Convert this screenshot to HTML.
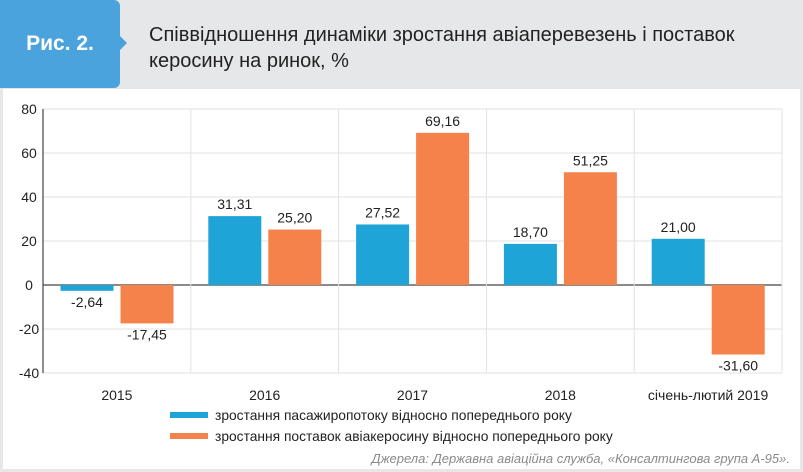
<!DOCTYPE html>
<html><head><meta charset="utf-8"><style>
body{margin:0;width:803px;height:472px;background:#e6e7e9;font-family:"Liberation Sans",sans-serif;overflow:hidden;position:relative}
.tab{position:absolute;left:0;top:0;width:120px;height:88px;background:#4aa3dc;border-radius:0 6px 6px 0;color:#fff;font-weight:bold;font-size:21px;line-height:88px;text-align:center}
.tab:after{content:"";position:absolute;right:-7px;top:36px;border-left:7px solid #4aa3dc;border-top:7px solid transparent;border-bottom:7px solid transparent}
.title{position:absolute;left:149px;top:22px;font-size:20px;line-height:26px;color:#222}
.panel{position:absolute;left:3px;top:89px;width:797px;height:380px;background:#fff}
svg{position:absolute;left:0;top:0}
</style></head><body>
<div class="tab">Рис. 2.</div>
<div class="title">Співвідношення динаміки зростання авіаперевезень і поставок<br>керосину на ринок, %</div>
<div class="panel"></div>
<svg width="803" height="472" id="c"></svg>
<script>
const categories=["2015","2016","2017","2018","січень-лютий 2019"];
const passengers=[-2.64,31.31,27.52,18.70,21.00];
const kerosene=[-17.45,25.20,69.16,51.25,-31.60];
const passLabels=["-2,64","31,31","27,52","18,70","21,00"];
const kerLabels=["-17,45","25,20","69,16","51,25","-31,60"];
const yTicks=[80,60,40,20,0,-20,-40];
const svg=document.getElementById('c');
const NS="http://www.w3.org/2000/svg";
const x0=43,x1=782,yTop=109,yBot=373,yMax=80,yMin=-40;
const cw=(x1-x0)/categories.length;
function y(v){return yTop+(yMax-v)*(yBot-yTop)/(yMax-yMin);}
function el(t,a,txt){const e=document.createElementNS(NS,t);for(const k in a)e.setAttribute(k,a[k]);if(txt!==undefined)e.textContent=txt;svg.appendChild(e);return e;}
yTicks.forEach(t=>{
 const g=el('line',{x1:x0,x2:x1,y1:y(t),y2:y(t),stroke:t===0?'#444':'#e2e2e2','stroke-width':t===0?1.2:1});
 
 
 const l=el('text',{x:29,y:y(t)+5,'text-anchor':'middle','font-size':14,fill:'#222'},String(t));
 
 
});
for(let i=1;i<=categories.length;i++){
 const v=el('line',{x1:x0+cw*i,x2:x0+cw*i,y1:yTop,y2:yBot,stroke:'#e2e2e2'});
 
 
}
const ax=el('line',{x1:x0,x2:x0,y1:yTop,y2:yBot,stroke:'#444','stroke-width':1.2});


function bar(v,xs,col,lab,name){
 const top=Math.min(y(v),y(0)),h=Math.abs(y(v)-y(0));
 const r=el('rect',{x:xs,y:top,width:53,height:h,fill:col});
 
 
 const ty=v>=0?y(v)-7:y(v)+16;
 const t=el('text',{x:xs+26.5,y:ty,'text-anchor':'middle','font-size':14,fill:'#222'},lab);
 
 
}
categories.forEach((c,i)=>{
 const cx=x0+cw*i;
 bar(passengers[i],cx+17.5,'#1ea4d6',passLabels[i],'bar-passengers-'+i);
 bar(kerosene[i],cx+77.5,'#f4824a',kerLabels[i],'bar-kerosene-'+i);
 const t=el('text',{x:cx+cw/2,y:400,'text-anchor':'middle','font-size':14,fill:'#222'},c);
 
 
});
const lg=[['#1ea4d6','зростання пасажиропотоку відносно попереднього року',418],['#f4824a','зростання поставок авіакеросину відносно попереднього року',439]];
lg.forEach((d,i)=>{
 const r=el('rect',{x:170,y:d[2]-6,width:38,height:6,fill:d[0]});
 
 
 const t=el('text',{x:215,y:d[2]+2,'font-size':13.8,fill:'#222'},d[1]);
 
 
});
const s=el('text',{x:790,y:463,'text-anchor':'end','font-size':13,'font-style':'italic',fill:'#8a8a8a'},'Джерела: Державна авіаційна служба, «Консалтингова група А-95».');


</script>
</body></html>
